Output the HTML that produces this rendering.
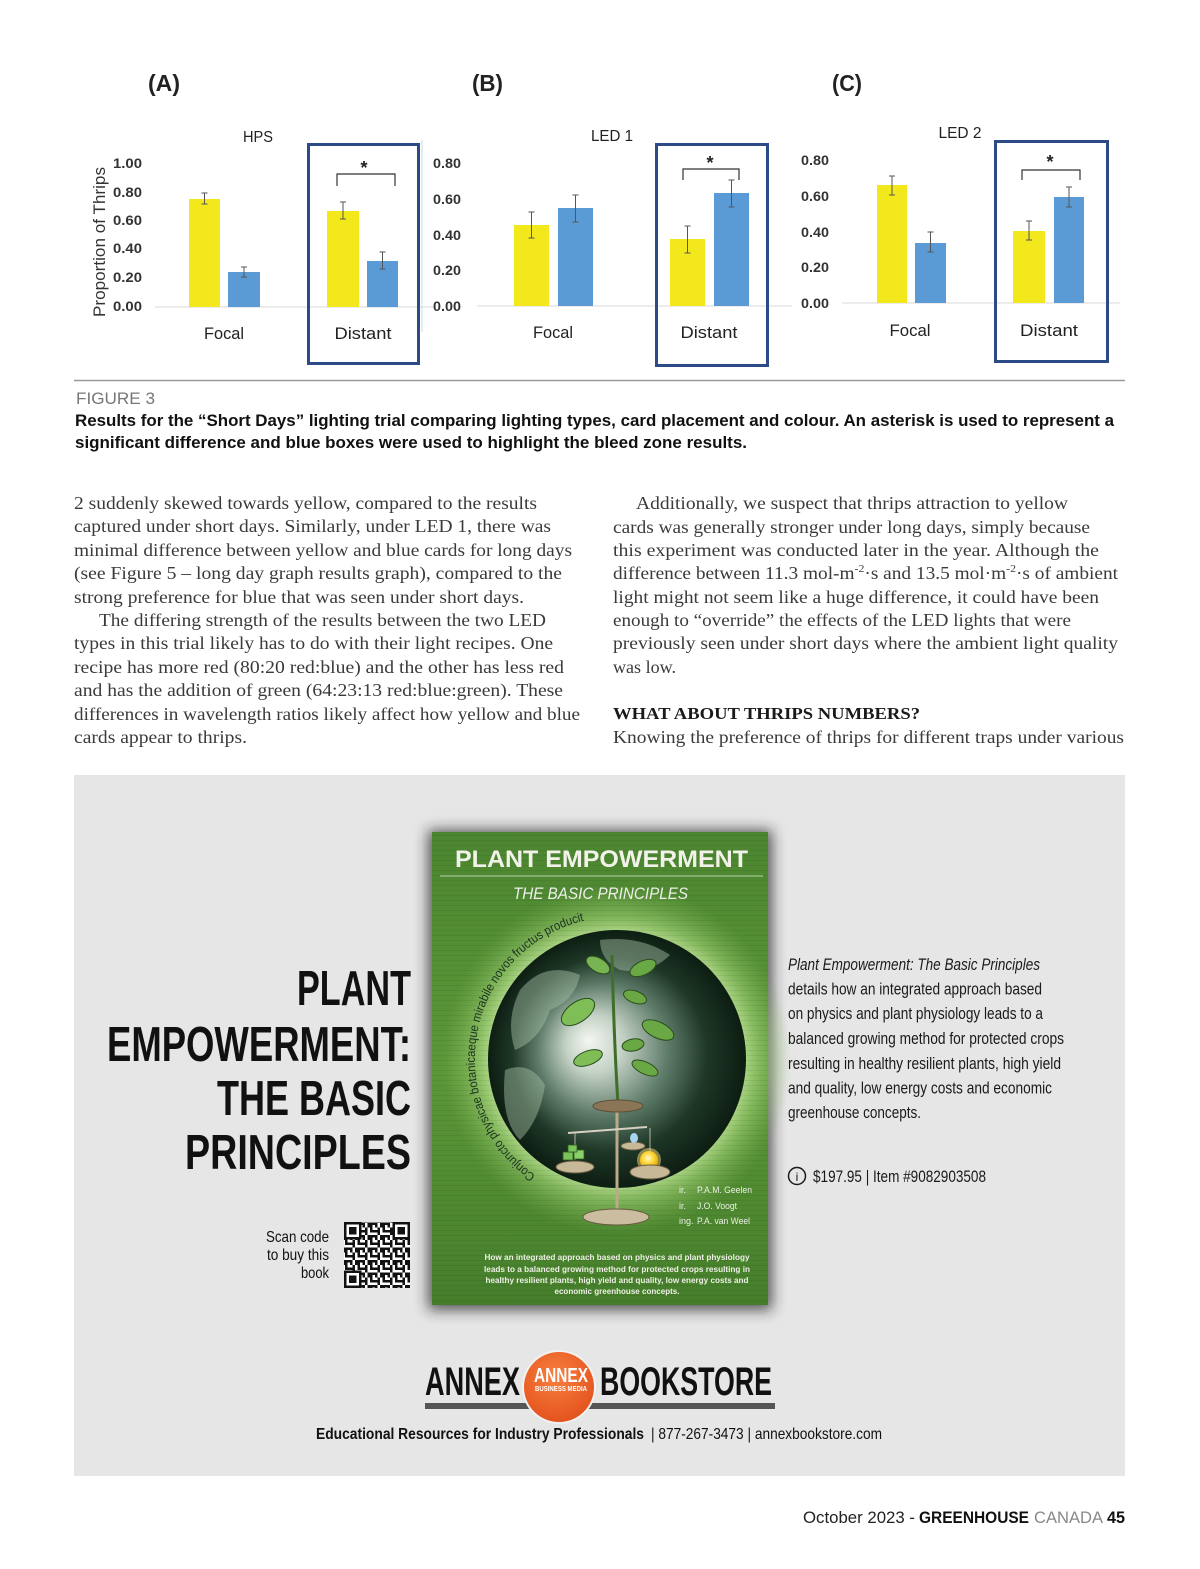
<!DOCTYPE html>
<html><head><meta charset="utf-8">
<style>
html,body{margin:0;padding:0;background:#fff;}
svg{display:block;}
.s{font-family:"Liberation Sans",sans-serif;}
.n{font-family:"Liberation Sans Narrow","Liberation Sans",sans-serif;}
.r{font-family:"Liberation Serif",serif;}
</style></head><body>
<svg width="1200" height="1569" viewBox="0 0 1200 1569" xmlns="http://www.w3.org/2000/svg">
<defs>
  <linearGradient id="cov" x1="0" y1="0" x2="0" y2="1">
    <stop offset="0" stop-color="#4b8530"/>
    <stop offset="0.5" stop-color="#5b9838"/>
    <stop offset="1" stop-color="#457e2b"/>
  </linearGradient>
  <radialGradient id="glow" cx="617" cy="1059" r="175" gradientUnits="userSpaceOnUse">
    <stop offset="0.68" stop-color="#d2efae" stop-opacity="0.95"/>
    <stop offset="0.8" stop-color="#a8d67c" stop-opacity="0.6"/>
    <stop offset="1" stop-color="#7fb356" stop-opacity="0"/>
  </radialGradient>
  <radialGradient id="globe" cx="617" cy="1059" r="130" fx="588" fy="1040" gradientUnits="userSpaceOnUse">
    <stop offset="0" stop-color="#f4f7f2"/>
    <stop offset="0.22" stop-color="#c4d2c6"/>
    <stop offset="0.5" stop-color="#5f7c6a"/>
    <stop offset="0.75" stop-color="#1e3727"/>
    <stop offset="1" stop-color="#0c1c11"/>
  </radialGradient>
  <radialGradient id="sun" cx="0.45" cy="0.4" r="0.6">
    <stop offset="0" stop-color="#fffbd0"/>
    <stop offset="0.5" stop-color="#ffd93a"/>
    <stop offset="1" stop-color="#e6a800"/>
  </radialGradient>
  <radialGradient id="orange" cx="0.45" cy="0.35" r="0.7">
    <stop offset="0" stop-color="#f7803f"/>
    <stop offset="1" stop-color="#e3501b"/>
  </radialGradient>
  <pattern id="lines" width="6" height="5" patternUnits="userSpaceOnUse">
    <rect x="0" y="0" width="6" height="1" fill="#000" opacity="0.06"/>
  </pattern>
  <pattern id="qr" width="12.5" height="12.5" patternUnits="userSpaceOnUse">
    <rect x="0" y="0" width="2.5" height="2.5" fill="#111"/>
    <rect x="5" y="0" width="5" height="2.5" fill="#111"/>
    <rect x="2.5" y="2.5" width="2.5" height="2.5" fill="#111"/>
    <rect x="7.5" y="2.5" width="2.5" height="5" fill="#111"/>
    <rect x="0" y="5" width="5" height="2.5" fill="#111"/>
    <rect x="10" y="5" width="2.5" height="2.5" fill="#111"/>
    <rect x="2.5" y="7.5" width="2.5" height="2.5" fill="#111"/>
    <rect x="5" y="10" width="5" height="2.5" fill="#111"/>
    <rect x="10" y="10" width="2.5" height="2.5" fill="#111"/>
    <rect x="0" y="10" width="2.5" height="2.5" fill="#111"/>
  </pattern>
  <filter id="shadow" x="-20%" y="-20%" width="140%" height="140%">
    <feGaussianBlur stdDeviation="7"/>
  </filter>
  <path id="arc" d="M 535.5 1175.3 A 142 142 0 0 1 587.5 920"/>
</defs>

<rect x="0" y="0" width="1200" height="1569" fill="#ffffff"/>

<!-- ================= CHART A ================= -->
<g class="s">
  <text x="148" y="91" font-size="23" font-weight="bold" fill="#222" textLength="32" lengthAdjust="spacingAndGlyphs">(A)</text>
  <text x="243" y="142" font-size="16" fill="#222" textLength="30" lengthAdjust="spacingAndGlyphs">HPS</text>
  <g font-size="14" font-weight="bold" fill="#333">
    <text x="113" y="168" textLength="29" lengthAdjust="spacingAndGlyphs">1.00</text>
    <text x="113" y="197" textLength="29" lengthAdjust="spacingAndGlyphs">0.80</text>
    <text x="113" y="225" textLength="29" lengthAdjust="spacingAndGlyphs">0.60</text>
    <text x="113" y="253" textLength="29" lengthAdjust="spacingAndGlyphs">0.40</text>
    <text x="113" y="282" textLength="29" lengthAdjust="spacingAndGlyphs">0.20</text>
    <text x="113" y="311" textLength="29" lengthAdjust="spacingAndGlyphs">0.00</text>
  </g>
  <text transform="translate(105,242) rotate(-90)" text-anchor="middle" font-size="17" fill="#333" textLength="150" lengthAdjust="spacingAndGlyphs">Proportion of Thrips</text>
  <line x1="155" y1="307" x2="434" y2="307" stroke="#d9d9d9" stroke-width="1"/>
  <rect x="189" y="199" width="31" height="108" fill="#f3e81b"/>
  <rect x="228" y="272" width="32" height="35" fill="#5b9bd5"/>
  <rect x="327" y="211" width="32" height="96" fill="#f3e81b"/>
  <rect x="367" y="261" width="31" height="46" fill="#5b9bd5"/>
  <g stroke="#555" stroke-width="1" fill="none">
    <path d="M204.5 193 V204 M201.5 193 H207.5 M201.5 204 H207.5"/>
    <path d="M244 267 V277 M241 267 H247 M241 277 H247"/>
    <path d="M343 202 V219 M340 202 H346 M340 219 H346"/>
    <path d="M382.5 252 V269 M379.5 252 H385.5 M379.5 269 H385.5"/>
  </g>
  <path d="M337 186 V174 H395 V186" stroke="#333" stroke-width="1.2" fill="none"/>
  <text x="364" y="174" text-anchor="middle" font-size="18" font-weight="bold" fill="#222">*</text>
  <rect x="308.5" y="144.5" width="110" height="219" fill="none" stroke="#2c4a86" stroke-width="3"/>
  <text x="224" y="339" text-anchor="middle" font-size="17" fill="#222" textLength="40" lengthAdjust="spacingAndGlyphs">Focal</text>
  <text x="363" y="339" text-anchor="middle" font-size="17" fill="#222" textLength="57" lengthAdjust="spacingAndGlyphs">Distant</text>
</g>

<!-- ================= CHART B ================= -->
<g class="s">
  <line x1="422" y1="140" x2="422" y2="332" stroke="#c9d8ea" stroke-width="1"/>
  <text x="472" y="91" font-size="23" font-weight="bold" fill="#222" textLength="31" lengthAdjust="spacingAndGlyphs">(B)</text>
  <text x="612" y="141" text-anchor="middle" font-size="16" fill="#222" textLength="42" lengthAdjust="spacingAndGlyphs">LED 1</text>
  <g font-size="14" font-weight="bold" fill="#333">
    <text x="433" y="168" textLength="28" lengthAdjust="spacingAndGlyphs">0.80</text>
    <text x="433" y="204" textLength="28" lengthAdjust="spacingAndGlyphs">0.60</text>
    <text x="433" y="240" textLength="28" lengthAdjust="spacingAndGlyphs">0.40</text>
    <text x="433" y="275" textLength="28" lengthAdjust="spacingAndGlyphs">0.20</text>
    <text x="433" y="311" textLength="28" lengthAdjust="spacingAndGlyphs">0.00</text>
  </g>
  <line x1="477" y1="306" x2="792" y2="306" stroke="#d9d9d9" stroke-width="1"/>
  <rect x="514" y="225" width="35" height="81" fill="#f3e81b"/>
  <rect x="558" y="208" width="35" height="98" fill="#5b9bd5"/>
  <rect x="670" y="239" width="35" height="67" fill="#f3e81b"/>
  <rect x="714" y="193" width="35" height="113" fill="#5b9bd5"/>
  <g stroke="#555" stroke-width="1" fill="none">
    <path d="M531.5 212 V238 M528.5 212 H534.5 M528.5 238 H534.5"/>
    <path d="M575.5 195 V222 M572.5 195 H578.5 M572.5 222 H578.5"/>
    <path d="M687.5 226 V253 M684.5 226 H690.5 M684.5 253 H690.5"/>
    <path d="M731.5 180 V207 M728.5 180 H734.5 M728.5 207 H734.5"/>
  </g>
  <path d="M683 180 V169 H739 V180" stroke="#333" stroke-width="1.2" fill="none"/>
  <text x="710" y="169" text-anchor="middle" font-size="18" font-weight="bold" fill="#222">*</text>
  <rect x="656.5" y="144.5" width="111" height="221" fill="none" stroke="#2c4a86" stroke-width="3"/>
  <text x="553" y="338" text-anchor="middle" font-size="17" fill="#222" textLength="40" lengthAdjust="spacingAndGlyphs">Focal</text>
  <text x="709" y="338" text-anchor="middle" font-size="17" fill="#222" textLength="57" lengthAdjust="spacingAndGlyphs">Distant</text>
</g>

<!-- ================= CHART C ================= -->
<g class="s">
  <text x="832" y="91" font-size="23" font-weight="bold" fill="#222" textLength="30" lengthAdjust="spacingAndGlyphs">(C)</text>
  <text x="960" y="138" text-anchor="middle" font-size="16" fill="#222" textLength="43" lengthAdjust="spacingAndGlyphs">LED 2</text>
  <g font-size="14" font-weight="bold" fill="#333">
    <text x="801" y="165" textLength="28" lengthAdjust="spacingAndGlyphs">0.80</text>
    <text x="801" y="201" textLength="28" lengthAdjust="spacingAndGlyphs">0.60</text>
    <text x="801" y="237" textLength="28" lengthAdjust="spacingAndGlyphs">0.40</text>
    <text x="801" y="272" textLength="28" lengthAdjust="spacingAndGlyphs">0.20</text>
    <text x="801" y="308" textLength="28" lengthAdjust="spacingAndGlyphs">0.00</text>
  </g>
  <line x1="842" y1="303" x2="1120" y2="303" stroke="#d9d9d9" stroke-width="1"/>
  <rect x="877" y="185" width="30" height="118" fill="#f3e81b"/>
  <rect x="915" y="243" width="31" height="60" fill="#5b9bd5"/>
  <rect x="1013" y="231" width="32" height="72" fill="#f3e81b"/>
  <rect x="1054" y="197" width="30" height="106" fill="#5b9bd5"/>
  <g stroke="#555" stroke-width="1" fill="none">
    <path d="M892 176 V195 M889 176 H895 M889 195 H895"/>
    <path d="M930.5 232 V252 M927.5 232 H933.5 M927.5 252 H933.5"/>
    <path d="M1029 221 V240 M1026 221 H1032 M1026 240 H1032"/>
    <path d="M1069 187 V207 M1066 187 H1072 M1066 207 H1072"/>
  </g>
  <path d="M1022 180 V170 H1080 V180" stroke="#333" stroke-width="1.2" fill="none"/>
  <text x="1050" y="168" text-anchor="middle" font-size="18" font-weight="bold" fill="#222">*</text>
  <rect x="995.5" y="141.5" width="112" height="220" fill="none" stroke="#2c4a86" stroke-width="3"/>
  <text x="910" y="336" text-anchor="middle" font-size="17" fill="#222" textLength="41" lengthAdjust="spacingAndGlyphs">Focal</text>
  <text x="1049" y="336" text-anchor="middle" font-size="17" fill="#222" textLength="58" lengthAdjust="spacingAndGlyphs">Distant</text>
</g>

<!-- ================= CAPTION ================= -->
<line x1="74" y1="380.5" x2="1125" y2="380.5" stroke="#999" stroke-width="1.5"/>
<g class="s">
  <text x="76" y="404" font-size="17" fill="#777" textLength="79" lengthAdjust="spacingAndGlyphs">FIGURE 3</text>
  <text x="75" y="426" font-size="16.5" font-weight="bold" fill="#111" textLength="1039" lengthAdjust="spacingAndGlyphs">Results for the “Short Days” lighting trial comparing lighting types, card placement and colour. An asterisk is used to represent a</text>
  <text x="75" y="448" font-size="16.5" font-weight="bold" fill="#111" textLength="672" lengthAdjust="spacingAndGlyphs">significant difference and blue boxes were used to highlight the bleed zone results.</text>
</g>

<!-- ================= BODY TEXT ================= -->
<g class="r" font-size="18" fill="#3a3a3a">
  <text x="74" y="509" textLength="463" lengthAdjust="spacingAndGlyphs">2 suddenly skewed towards yellow, compared to the results</text>
  <text x="74" y="532" textLength="477" lengthAdjust="spacingAndGlyphs">captured under short days. Similarly, under LED 1, there was</text>
  <text x="74" y="556" textLength="498" lengthAdjust="spacingAndGlyphs">minimal difference between yellow and blue cards for long days</text>
  <text x="74" y="579" textLength="488" lengthAdjust="spacingAndGlyphs">(see Figure 5 – long day graph results graph), compared to the</text>
  <text x="74" y="603" textLength="450" lengthAdjust="spacingAndGlyphs">strong preference for blue that was seen under short days.</text>
  <text x="99" y="626" textLength="447" lengthAdjust="spacingAndGlyphs">The differing strength of the results between the two LED</text>
  <text x="74" y="649" textLength="479" lengthAdjust="spacingAndGlyphs">types in this trial likely has to do with their light recipes. One</text>
  <text x="74" y="673" textLength="490" lengthAdjust="spacingAndGlyphs">recipe has more red (80:20 red:blue) and the other has less red</text>
  <text x="74" y="696" textLength="489" lengthAdjust="spacingAndGlyphs">and has the addition of green (64:23:13 red:blue:green). These</text>
  <text x="74" y="720" textLength="506" lengthAdjust="spacingAndGlyphs">differences in wavelength ratios likely affect how yellow and blue</text>
  <text x="74" y="743" textLength="173" lengthAdjust="spacingAndGlyphs">cards appear to thrips.</text>

  <text x="636" y="509" textLength="432" lengthAdjust="spacingAndGlyphs">Additionally, we suspect that thrips attraction to yellow</text>
  <text x="613" y="533" textLength="477" lengthAdjust="spacingAndGlyphs">cards was generally stronger under long days, simply because</text>
  <text x="613" y="556" textLength="486" lengthAdjust="spacingAndGlyphs">this experiment was conducted later in the year. Although the</text>
  <text x="613" y="579" textLength="505" lengthAdjust="spacingAndGlyphs">difference between 11.3 mol-m<tspan font-size="11" dy="-7">-2</tspan><tspan dy="7">·s and 13.5 mol·m</tspan><tspan font-size="11" dy="-7">-2</tspan><tspan dy="7">·s of ambient</tspan></text>
  <text x="613" y="603" textLength="486" lengthAdjust="spacingAndGlyphs">light might not seem like a huge difference, it could have been</text>
  <text x="613" y="626" textLength="458" lengthAdjust="spacingAndGlyphs">enough to “override” the effects of the LED lights that were</text>
  <text x="613" y="649" textLength="505" lengthAdjust="spacingAndGlyphs">previously seen under short days where the ambient light quality</text>
  <text x="613" y="673" textLength="63" lengthAdjust="spacingAndGlyphs">was low.</text>
  <text x="613" y="719" font-size="17" font-weight="bold" fill="#1a1a1a" textLength="307" lengthAdjust="spacingAndGlyphs">WHAT ABOUT THRIPS NUMBERS?</text>
  <text x="613" y="743" textLength="511" lengthAdjust="spacingAndGlyphs">Knowing the preference of thrips for different traps under various</text>
</g>

<!-- ================= AD ================= -->
<rect x="74" y="775" width="1051" height="701" fill="#e6e6e7"/>

<!-- big title -->
<g class="n" font-weight="bold" fill="#111" font-size="49">
  <text x="297" y="1005" textLength="114" lengthAdjust="spacingAndGlyphs">PLANT</text>
  <text x="107" y="1061" textLength="304" lengthAdjust="spacingAndGlyphs">EMPOWERMENT:</text>
  <text x="217" y="1115" textLength="194" lengthAdjust="spacingAndGlyphs">THE BASIC</text>
  <text x="185" y="1169" textLength="226" lengthAdjust="spacingAndGlyphs">PRINCIPLES</text>
</g>

<!-- scan code -->
<g class="n" font-size="16" fill="#111">
  <text x="266" y="1242" textLength="63" lengthAdjust="spacingAndGlyphs">Scan code</text>
  <text x="267" y="1260" textLength="62" lengthAdjust="spacingAndGlyphs">to buy this</text>
  <text x="301" y="1278" textLength="28" lengthAdjust="spacingAndGlyphs">book</text>
</g>
<!-- QR -->
<rect x="344" y="1222" width="66" height="66" fill="#fff"/>
<rect x="344" y="1222" width="66" height="66" fill="url(#qr)"/>
<g>
  <rect x="344" y="1222" width="17.5" height="17.5" fill="#111"/>
  <rect x="346.5" y="1224.5" width="12.5" height="12.5" fill="#fff"/>
  <rect x="349" y="1227" width="7.5" height="7.5" fill="#111"/>
  <rect x="392.5" y="1222" width="17.5" height="17.5" fill="#111"/>
  <rect x="395" y="1224.5" width="12.5" height="12.5" fill="#fff"/>
  <rect x="397.5" y="1227" width="7.5" height="7.5" fill="#111"/>
  <rect x="344" y="1270.5" width="17.5" height="17.5" fill="#111"/>
  <rect x="346.5" y="1273" width="12.5" height="12.5" fill="#fff"/>
  <rect x="349" y="1275.5" width="7.5" height="7.5" fill="#111"/>
</g>

<!-- book cover shadow -->
<rect x="428" y="830" width="344" height="480" fill="#222" opacity="0.75" filter="url(#shadow)"/>
<!-- book cover -->
<g>
  <rect x="432" y="832" width="336" height="473" fill="url(#cov)"/>
  <circle cx="617" cy="1059" r="175" fill="url(#glow)"/>
  <rect x="432" y="832" width="336" height="473" fill="url(#lines)"/>
  <g class="s">
    <text x="455" y="867" font-size="24" font-weight="bold" fill="#f2f2ea" textLength="293" lengthAdjust="spacingAndGlyphs">PLANT EMPOWERMENT</text>
    <line x1="440" y1="876" x2="763" y2="876" stroke="#d8e8c4" stroke-width="1" opacity="0.8"/>
    <text x="513" y="899" font-size="17" font-style="italic" fill="#eeeeea" textLength="175" lengthAdjust="spacingAndGlyphs">THE BASIC PRINCIPLES</text>
  </g>
  <!-- globe -->
  <circle cx="617" cy="1059" r="129" fill="url(#globe)"/>
  <g fill="#a9c4a8" opacity="0.45">
    <path d="M520 990 Q545 960 580 975 Q575 1000 550 1010 Q540 1040 515 1050 Q505 1020 520 990 Z"/>
    <path d="M505 1070 Q530 1060 545 1085 Q540 1120 520 1140 Q500 1120 505 1070 Z"/>
    <path d="M600 940 Q640 935 670 955 Q650 975 620 970 Q600 960 600 940 Z"/>
  </g>
  <!-- curved latin text -->
  <text class="s" font-size="12.5" fill="#1c3320"><textPath href="#arc" textLength="326" lengthAdjust="spacingAndGlyphs">Conjuncto physicae botanicaeque mirabile novos fructus producit</textPath></text>
  <!-- plant -->
  <g stroke="#2a4d1c" stroke-width="1">
    <path d="M618 1105 Q614 1040 612 955" fill="none" stroke="#3f6e2a" stroke-width="3"/>
    <ellipse cx="598" cy="965" rx="13" ry="7" transform="rotate(30 598 965)" fill="#78b552"/>
    <ellipse cx="643" cy="968" rx="14" ry="7" transform="rotate(-25 643 968)" fill="#6aa846"/>
    <ellipse cx="578" cy="1012" rx="19" ry="10" transform="rotate(-35 578 1012)" fill="#7fbd57"/>
    <ellipse cx="635" cy="997" rx="12" ry="6" transform="rotate(20 635 997)" fill="#6aa846"/>
    <ellipse cx="658" cy="1030" rx="17" ry="8" transform="rotate(25 658 1030)" fill="#6aa846"/>
    <ellipse cx="588" cy="1058" rx="15" ry="7" transform="rotate(-20 588 1058)" fill="#7fbd57"/>
    <ellipse cx="633" cy="1045" rx="11" ry="6" transform="rotate(-10 633 1045)" fill="#6aa846"/>
    <ellipse cx="645" cy="1068" rx="14" ry="6" transform="rotate(25 645 1068)" fill="#6aa846"/>
  </g>
  <!-- scale -->
  <line x1="617" y1="1105" x2="617" y2="1212" stroke="#bba98a" stroke-width="3"/>
  <ellipse cx="618" cy="1106" rx="25" ry="6" fill="#8a7656" stroke="#5d4e38" stroke-width="1"/>
  <line x1="568" y1="1133" x2="647" y2="1127" stroke="#d8d0c0" stroke-width="2"/>
  <line x1="575" y1="1133" x2="575" y2="1160" stroke="#d8d0c0" stroke-width="0.8"/>
  <line x1="650" y1="1128" x2="650" y2="1165" stroke="#d8d0c0" stroke-width="0.8"/>
  <ellipse cx="575" cy="1167" rx="19" ry="6" fill="#c7b898" stroke="#6a5a40" stroke-width="1"/>
  <rect x="563" y="1152" width="10" height="8" fill="#7bc25a" stroke="#2e5a20" stroke-width="0.8"/>
  <rect x="574" y="1150" width="10" height="9" fill="#8bd06a" stroke="#2e5a20" stroke-width="0.8"/>
  <rect x="568" y="1145" width="9" height="7" fill="#7bc25a" stroke="#2e5a20" stroke-width="0.8"/>
  <ellipse cx="633" cy="1146" rx="12" ry="4" fill="#c7b898" stroke="#6a5a40" stroke-width="1"/>
  <ellipse cx="634" cy="1138" rx="4" ry="5" fill="#a8d4f0"/>
  <circle cx="649" cy="1160" r="12" fill="#ffe27a" opacity="0.5"/>
  <circle cx="649" cy="1160" r="9" fill="url(#sun)"/>
  <ellipse cx="650" cy="1172" rx="20" ry="7" fill="#c7b898" stroke="#6a5a40" stroke-width="1"/>
  <ellipse cx="616" cy="1217" rx="33" ry="8" fill="#cbbd9f" stroke="#6a5a40" stroke-width="1"/>
  <!-- authors -->
  <g class="s" font-size="9" fill="#eef0e6">
    <text x="679" y="1193">ir.</text><text x="697" y="1193" textLength="55" lengthAdjust="spacingAndGlyphs">P.A.M. Geelen</text>
    <text x="679" y="1209">ir.</text><text x="697" y="1209" textLength="40" lengthAdjust="spacingAndGlyphs">J.O. Voogt</text>
    <text x="679" y="1224">ing.</text><text x="697" y="1224" textLength="53" lengthAdjust="spacingAndGlyphs">P.A. van Weel</text>
  </g>
  <g class="s" font-size="8" font-weight="bold" fill="#eef0e6" text-anchor="middle">
    <text x="617" y="1260" textLength="265" lengthAdjust="spacingAndGlyphs">How an integrated approach based on physics and plant physiology</text>
    <text x="617" y="1272" textLength="266" lengthAdjust="spacingAndGlyphs">leads to a balanced growing method for protected crops resulting in</text>
    <text x="617" y="1283" textLength="263" lengthAdjust="spacingAndGlyphs">healthy resilient plants, high yield and quality, low energy costs and</text>
    <text x="617" y="1294" textLength="125" lengthAdjust="spacingAndGlyphs">economic greenhouse concepts.</text>
  </g>
</g>

<!-- right description -->
<g class="n" font-size="17" fill="#1a1a1a">
  <text x="788" y="970" font-style="italic" textLength="252" lengthAdjust="spacingAndGlyphs">Plant Empowerment: The Basic Principles</text>
  <text x="788" y="994.5" textLength="254" lengthAdjust="spacingAndGlyphs">details how an integrated approach based</text>
  <text x="788" y="1019" textLength="255" lengthAdjust="spacingAndGlyphs">on physics and plant physiology leads to a</text>
  <text x="788" y="1044" textLength="276" lengthAdjust="spacingAndGlyphs">balanced growing method for protected crops</text>
  <text x="788" y="1069" textLength="273" lengthAdjust="spacingAndGlyphs">resulting in healthy resilient plants, high yield</text>
  <text x="788" y="1093.5" textLength="264" lengthAdjust="spacingAndGlyphs">and quality, low energy costs and economic</text>
  <text x="788" y="1118" textLength="133" lengthAdjust="spacingAndGlyphs">greenhouse concepts.</text>
  <circle cx="797" cy="1176" r="8.5" fill="none" stroke="#1a1a1a" stroke-width="1.5"/>
  <text x="797" y="1181" font-size="12" text-anchor="middle" font-family="Liberation Sans, sans-serif">i</text>
  <text x="813" y="1182" textLength="173" lengthAdjust="spacingAndGlyphs">$197.95 | Item #9082903508</text>
</g>

<!-- Annex logo -->
<rect x="425" y="1403" width="350" height="6" fill="#555"/>
<g class="n" font-weight="bold" fill="#111" font-size="40">
  <text x="425" y="1395" textLength="95" lengthAdjust="spacingAndGlyphs">ANNEX</text>
  <text x="600" y="1395" textLength="172" lengthAdjust="spacingAndGlyphs">BOOKSTORE</text>
</g>
<circle cx="559" cy="1387" r="37" fill="#f2f2f2"/>
<circle cx="559" cy="1387" r="35" fill="url(#orange)"/>
<g class="n" font-weight="bold" fill="#fff" text-anchor="middle">
  <text x="561" y="1382" font-size="20" textLength="54" lengthAdjust="spacingAndGlyphs">ANNEX</text>
  <text x="561" y="1391" font-size="7.5" textLength="52" lengthAdjust="spacingAndGlyphs">BUSINESS MEDIA</text>
</g>
<g class="n" font-size="16" fill="#111">
  <text x="316" y="1439" font-weight="bold" textLength="328" lengthAdjust="spacingAndGlyphs">Educational Resources for Industry Professionals</text>
  <text x="651" y="1439" textLength="231" lengthAdjust="spacingAndGlyphs">| 877-267-3473 | annexbookstore.com</text>
</g>

<!-- Footer -->
<g class="s" font-size="17">
  <text x="803" y="1523" fill="#222" textLength="112" lengthAdjust="spacingAndGlyphs">October 2023 -</text>
  <text x="919" y="1523" fill="#111" font-weight="bold" textLength="110" lengthAdjust="spacingAndGlyphs">GREENHOUSE</text>
  <text x="1034" y="1523" fill="#888" textLength="69" lengthAdjust="spacingAndGlyphs">CANADA</text>
  <text x="1107" y="1523" fill="#111" font-weight="bold" textLength="18" lengthAdjust="spacingAndGlyphs">45</text>
</g>
</svg>
</body></html>
